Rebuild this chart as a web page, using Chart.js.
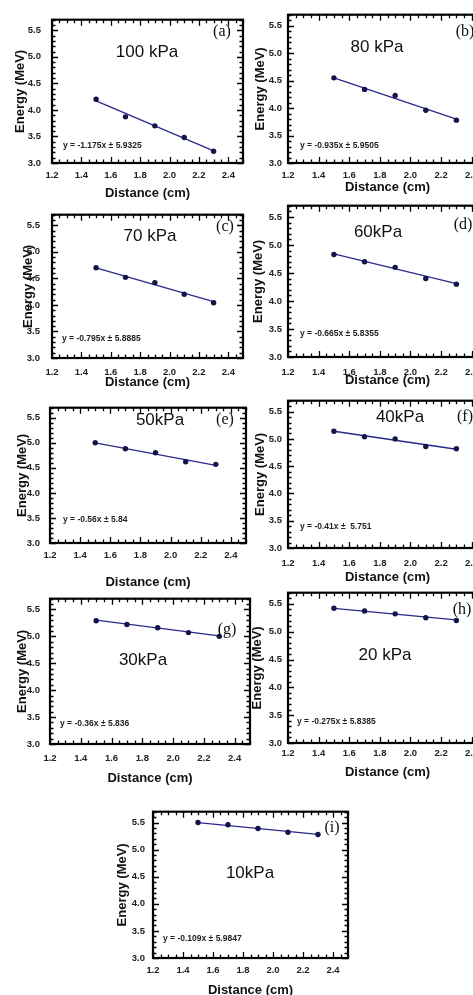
<!DOCTYPE html>
<html>
<head>
<meta charset="utf-8">
<script src="https://cdn.jsdelivr.net/npm/chart.js@4.4.1/dist/chart.umd.min.js"></script>
<style>
html, body { margin: 0; padding: 0; background: #fff; width: 473px; height: 995px; overflow: hidden; }
body { position: relative; }
canvas { position: absolute; }
</style>
</head>
<body>
<script>
'use strict';

// x positions of the measurements (cm)
var distance = [1.5, 1.7, 1.9, 2.1, 2.3];
var fitDistance = [1.5, 2.3];
var xTicks = [1.2, 1.4, 1.6, 1.8, 2.0, 2.2, 2.4];
var yTicks = [3.0, 3.5, 4.0, 4.5, 5.0, 5.5];

// measured energies (MeV), one list per pressure
var energy100 = [4.20, 3.87, 3.70, 3.48, 3.22];
var energy80  = [4.55, 4.34, 4.23, 3.96, 3.78];
var energy70  = [4.70, 4.52, 4.42, 4.20, 4.04];
var energy60  = [4.83, 4.70, 4.60, 4.40, 4.30];
var energy50  = [5.00, 4.88, 4.80, 4.62, 4.57];
var energy40  = [5.14, 5.04, 5.00, 4.86, 4.82];
var energy30  = [5.29, 5.22, 5.16, 5.07, 5.00];
var energy20  = [5.42, 5.37, 5.32, 5.25, 5.20];
var energy10  = [5.50, 5.46, 5.39, 5.32, 5.28];

// fitted line, value at 1.5 cm and 2.3 cm
var fit100 = [4.17, 3.23];
var fit80  = [4.55, 3.80];
var fit70  = [4.70, 4.06];
var fit60  = [4.84, 4.31];
var fit50  = [5.00, 4.55];
var fit40  = [5.14, 4.81];
var fit30  = [5.30, 5.01];
var fit20  = [5.42, 5.21];
var fit10  = [5.50, 5.28];

var pressureLabels = ['100 kPa', '80 kPa', '70 kPa', '60kPa', '50kPa', '40kPa', '30kPa', '20 kPa', '10kPa'];
var panelLetters = ['(a)', '(b)', '(c)', '(d)', '(e)', '(f)', '(g)', '(h)', '(i)'];
var equations = [
    'y = -1.175x \u00b1 5.9325',
    'y = -0.935x \u00b1 5.9505',
    'y = -0.795x \u00b1 5.8885',
    'y = -0.665x \u00b1 5.8355',
    'y = -0.56x \u00b1 5.84',
    'y = -0.41x \u00b1  5.751',
    'y = -0.36x \u00b1 5.836',
    'y = -0.275x \u00b1 5.8385',
    'y = -0.109x \u00b1 5.9847'
];

var energies = [energy100, energy80, energy70, energy60, energy50, energy40, energy30, energy20, energy10];
var fits = [fit100, fit80, fit70, fit60, fit50, fit40, fit30, fit20, fit10];

// page layout of every panel: plot box and where the texts sit
var layouts = [
    {l: 52,  t: 13,  r: 243, b: 163, tickY: 175, titleY: 193, yTitleX: 20,  yTickRight: 41,  label: [147, 52],  letter: [222, 32],  eq: [63, 146]},
    {l: 288, t: 13,  r: 487, b: 163, tickY: 175, titleY: 187, yTitleX: 260, yTickRight: 282, label: [377, 47],  letter: [465, 32],  eq: [300, 146]},
    {l: 52,  t: 207, r: 243, b: 358, tickY: 372, titleY: 382, yTitleX: 28,  yTickRight: 40,  label: [150, 236], letter: [225, 227], eq: [62, 339]},
    {l: 288, t: 204, r: 487, b: 357, tickY: 372, titleY: 380, yTitleX: 258, yTickRight: 282, label: [378, 232], letter: [463, 225], eq: [300, 334]},
    {l: 50,  t: 402, r: 246, b: 543, tickY: 555, titleY: 582, yTitleX: 22,  yTickRight: 40,  label: [160, 420], letter: [225, 420], eq: [63, 520]},
    {l: 288, t: 399, r: 487, b: 548, tickY: 563, titleY: 577, yTitleX: 260, yTickRight: 282, label: [400, 417], letter: [465, 417], eq: [300, 527]},
    {l: 50,  t: 593, r: 250, b: 744, tickY: 758, titleY: 778, yTitleX: 22,  yTickRight: 40,  label: [143, 660], letter: [227, 630], eq: [60, 724]},
    {l: 288, t: 591, r: 487, b: 743, tickY: 753, titleY: 772, yTitleX: 257, yTickRight: 282, label: [385, 655], letter: [462, 610], eq: [297, 722]},
    {l: 153, t: 808, r: 348, b: 958, tickY: 970, titleY: 990, yTitleX: 122, yTickRight: 145, label: [250, 873], letter: [332, 828], eq: [163, 939]}
];

var SANS = "'Liberation Sans', Arial, sans-serif";
var SERIF = "'Liberation Serif', 'Times New Roman', serif";
var AXIS_W = 52, AXIS_H = 50, PAD_TOP = 10, PAD_RIGHT = 4;

/**
 * Box with inward ticks on all four sides, like the original plots.
 */
var framePlugin = {
    id: 'frame',
    afterDatasetsDraw: function(chart) {
        var ctx = chart.ctx, a = chart.chartArea;
        var xs = chart.scales.x, ys = chart.scales.y;
        var i, v, p, len;
        ctx.save();
        ctx.strokeStyle = '#000';
        ctx.lineWidth = 1.3;
        ctx.beginPath();
        for (i = 0; i <= 26; i++) {
            v = 1.2 + i * 0.05;
            p = Math.round(xs.getPixelForValue(v)) + 0.5;
            len = (i % 4 === 0) ? 6 : 3.5;
            ctx.moveTo(p, a.bottom); ctx.lineTo(p, a.bottom - len);
            ctx.moveTo(p, a.top); ctx.lineTo(p, a.top + len);
        }
        for (i = 0; i <= 27; i++) {
            v = 3.0 + i * 0.1;
            p = Math.round(ys.getPixelForValue(v)) + 0.5;
            len = (i % 5 === 0) ? 6 : 3.5;
            ctx.moveTo(a.left, p); ctx.lineTo(a.left + len, p);
            ctx.moveTo(a.right, p); ctx.lineTo(a.right - len, p);
        }
        ctx.stroke();
        ctx.lineWidth = 2.2;
        ctx.strokeRect(a.left, a.top, a.right - a.left, a.bottom - a.top);
        ctx.restore();
    }
};

function makeTextPlugin(idx, originX, originY) {
    var L = layouts[idx];
    return {
        id: 'panelText' + idx,
        afterDraw: function(chart) {
            var ctx = chart.ctx;
            ctx.save();
            ctx.fillStyle = '#111';
            ctx.textBaseline = 'middle';

            ctx.textAlign = 'center';
            ctx.font = '17px ' + SANS;
            ctx.fillText(pressureLabels[idx], L.label[0] - originX, L.label[1] - originY);

            ctx.font = '16px ' + SERIF;
            ctx.fillText(panelLetters[idx], L.letter[0] - originX, L.letter[1] - originY);

            ctx.textAlign = 'left';
            ctx.font = 'bold 8.5px ' + SANS;
            ctx.fillStyle = '#222';
            ctx.fillText(equations[idx], L.eq[0] - originX, L.eq[1] - originY);
            ctx.restore();
        }
    };
}

function drawPanel(idx) {
    var L = layouts[idx];
    var cl = L.l - AXIS_W;
    var ct = L.t - PAD_TOP;
    var cw = (L.r - L.l) + AXIS_W + PAD_RIGHT;
    var ch = (L.b - L.t) + PAD_TOP + AXIS_H;

    var canvas = document.createElement('canvas');
    canvas.width = cw;
    canvas.height = ch;
    canvas.style.left = cl + 'px';
    canvas.style.top = ct + 'px';
    canvas.style.width = cw + 'px';
    canvas.style.height = ch + 'px';
    document.body.appendChild(canvas);

    var points = [];
    for (var i = 0; i < distance.length; i++) {
        points.push({x: distance[i], y: energies[idx][i]});
    }
    var fitLine = [
        {x: fitDistance[0], y: fits[idx][0]},
        {x: fitDistance[1], y: fits[idx][1]}
    ];

    var tickFont = {family: SANS, size: 9.5, weight: 'bold'};
    var titleFont = {family: SANS, size: 13, weight: 'bold'};

    new Chart(canvas.getContext('2d'), {
        type: 'scatter',
        data: {
            datasets: [
                {
                    data: points,
                    showLine: false,
                    pointRadius: 2.7,
                    pointBackgroundColor: '#14144a',
                    pointBorderWidth: 0
                },
                {
                    data: fitLine,
                    showLine: true,
                    pointRadius: 0,
                    borderColor: '#2a2a8c',
                    borderWidth: 1.3
                }
            ]
        },
        options: {
            responsive: false,
            animation: false,
            devicePixelRatio: 1,
            layout: {padding: {top: PAD_TOP, right: PAD_RIGHT, left: 0, bottom: 0}},
            plugins: {legend: {display: false}, tooltip: {enabled: false}},
            scales: {
                x: {
                    type: 'linear',
                    min: 1.2,
                    max: 2.5,
                    afterBuildTicks: function(scale) {
                        scale.ticks = xTicks.map(function(v) { return {value: v}; });
                    },
                    afterFit: function(scale) { scale.height = AXIS_H; },
                    grid: {display: false, drawTicks: false},
                    border: {display: false},
                    ticks: {
                        padding: L.tickY - L.b - 5.7,
                        color: '#222',
                        font: tickFont,
                        maxRotation: 0,
                        callback: function(v) { return Number(v).toFixed(1); }
                    },
                    title: {
                        display: true,
                        text: 'Distance (cm)',
                        color: '#111',
                        font: titleFont,
                        padding: {top: 0, bottom: ch - (L.titleY - ct) - 7.8}
                    }
                },
                y: {
                    type: 'linear',
                    min: 3.0,
                    max: 5.7,
                    afterBuildTicks: function(scale) {
                        scale.ticks = yTicks.map(function(v) { return {value: v}; });
                    },
                    afterFit: function(scale) { scale.width = AXIS_W; },
                    grid: {display: false, drawTicks: false},
                    border: {display: false},
                    ticks: {
                        padding: L.l - L.yTickRight,
                        color: '#222',
                        font: tickFont,
                        callback: function(v) { return Number(v).toFixed(1); }
                    },
                    title: {
                        display: true,
                        text: 'Energy (MeV)',
                        color: '#111',
                        font: titleFont,
                        padding: {top: L.yTitleX - cl - 7.8, bottom: 0}
                    }
                }
            }
        },
        plugins: [framePlugin, makeTextPlugin(idx, cl, ct)]
    });
}

for (var k = 0; k < layouts.length; k++) {
    drawPanel(k);
}
</script>
</body>
</html>
